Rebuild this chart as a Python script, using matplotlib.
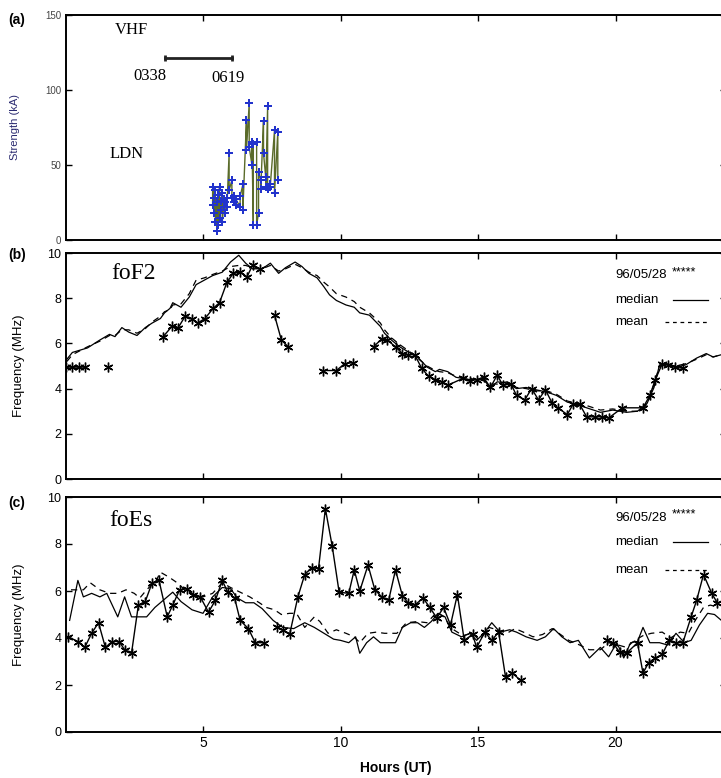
import numpy as np
import matplotlib
matplotlib.use('Agg')
import matplotlib.pyplot as plt
from matplotlib.lines import Line2D

plt.rcParams['font.family'] = ['Liberation Sans', 'DejaVu Sans']

nan = np.nan

# (a) lightning strokes (LDN) and VHF interval
ldn_hours = [5.35, 5.35, 5.40, 5.40, 5.45, 5.45, 5.50, 5.50, 5.55, 5.55, 5.60, 5.60,
             5.65, 5.65, 5.70, 5.70, 5.75, 5.75, 5.80, 5.80, 5.87, 5.87, 5.95, 5.95,
             6.05, 6.05, 6.12, 6.12, 6.20, 6.20, 6.35, 6.35, 6.45, 6.45, 6.58, 6.58,
             6.68, 6.68, 6.78, 6.78, 6.83, 6.83, 6.95, 6.95, 7.02, 7.02, 7.10, 7.10,
             7.20, 7.20, 7.28, 7.28, 7.35, 7.35, 7.45, 7.45, 7.60, 7.60, 7.72, 7.72]
ldn_ka = [23, 35, 28, 18, 33, 12, 25, 6, 30, 10, 35, 15,
          20, 26, 31, 12, 22, 27, 18, 25, 28, 22, 58, 33,
          40, 28, 25, 29, 23, 27, 22, 29, 37, 20, 80, 60,
          91, 62, 50, 65, 10, 64, 65, 10, 18, 45, 40, 34,
          79, 58, 42, 35, 89, 34, 35, 37, 73, 31, 72, 40]
vhf_hours = [3.6, 6.05]
vhf_level = [121, 121]

# (b) foF2
f2_obs_hours = [0.0, 0.25, 0.5, 0.7, nan, 1.55, nan,
                3.55, 3.87, 4.1, 4.35, 4.6, 4.8, 5.07, 5.37, 5.6, 5.87, 6.1, 6.35, 6.6, 6.8, 7.07, nan,
                7.6, 7.85, 8.1, nan,
                9.35, 9.85, 10.15, 10.45, nan,
                11.2, 11.5, 11.7, 12.0, 12.25, 12.45, 12.7, 12.95, 13.2, 13.45, 13.7, 13.9,
                14.45, 14.7, 14.95, 15.2, 15.45, 15.7, 15.9, 16.2, 16.4, 16.7, 16.95, 17.2, 17.45,
                17.7, 17.9, 18.25, 18.45, 18.7, 18.95, 19.25, 19.5, 19.75, 20.25,
                21.0, 21.25, 21.45, 21.7, 21.9, 22.15, 22.45]
f2_obs = [4.95, 4.95, 4.95, 4.95, nan, 4.95, nan,
          6.3, 6.75, 6.7, 7.2, 7.1, 6.9, 7.1, 7.55, 7.8, 8.7, 9.1, 9.15, 8.95, 9.45, 9.3, nan,
          7.25, 6.15, 5.85, nan,
          4.8, 4.8, 5.1, 5.15, nan,
          5.85, 6.2, 6.15, 5.85, 5.55, 5.5, 5.5, 4.9, 4.55, 4.4, 4.3, 4.15,
          4.45, 4.35, 4.4, 4.5, 4.05, 4.6, 4.15, 4.2, 3.7, 3.5, 4.0, 3.5, 3.95,
          3.35, 3.15, 2.85, 3.3, 3.3, 2.75, 2.75, 2.75, 2.7, 3.15,
          3.15, 3.7, 4.4, 5.1, 5.05, 4.95, 4.9]
f2_hours = [0.05, 0.25, 0.8, 1.25, 1.6, 1.8, 2.05, 2.3, 2.6, 2.9, 3.15, 3.45, 3.6, 3.8, 3.9,
            4.2, 4.5, 4.75, 5.05, 5.35, 5.7, 6.0, 6.3, 6.55, 6.8, 7.15, 7.45, 7.75, 8.0, 8.35,
            8.6, 8.85, 9.15, 9.4, 9.6, 9.85, 10.2, 10.5, 10.7, 11.05, 11.45, 11.6, 11.85, 12.15,
            12.5, 12.8, 13.15, 13.45, 13.6, 13.9, 14.2, 14.7, 15.2, 15.45, 15.7, 16.05, 16.4,
            16.75, 17.1, 17.5, 17.85, 18.25, 18.6, 18.95, 19.45, 19.9, 20.4, 20.8, 21.15, 21.4,
            21.6, 21.9, 22.2, 22.55, 22.95, 23.3, 23.55, 23.85]
f2_median = [5.3, 5.6, 5.8, 6.15, 6.4, 6.3, 6.7, 6.5, 6.35, 6.7, 6.9, 7.1, 7.35, 7.55, 7.8,
             7.6, 8.05, 8.6, 8.8, 9.0, 9.15, 9.6, 9.9, 9.55, 9.3, 9.3, 9.55, 9.1, 9.35, 9.6,
             9.4, 9.1, 8.9, 8.5, 8.15, 7.9, 7.7, 7.6, 7.35, 7.25, 6.75, 6.45, 6.15, 5.85,
             5.6, 5.4, 4.95, 4.75, 4.85, 4.75, 4.5, 4.4, 4.4, 4.05, 4.3, 4.25, 4.0,
             4.05, 3.95, 3.85, 3.7, 3.4, 3.3, 3.15, 2.95, 3.05, 2.95, 3.0, 3.35, 4.05,
             5.05, 5.1, 4.95, 5.05, 5.35, 5.55, 5.4, 5.5]
f2_mean = [5.2, 5.5, 5.85, 6.1, 6.35, 6.35, 6.6, 6.6, 6.45, 6.65, 6.95, 7.2, 7.4, 7.5, 7.7,
           7.75, 8.2, 8.8, 8.9, 9.05, 9.2, 9.4, 9.45, 9.45, 9.35, 9.3, 9.45, 9.2, 9.3, 9.5,
           9.35, 9.15, 9.0, 8.7, 8.5, 8.2, 8.05, 7.85, 7.6, 7.35, 6.9, 6.6, 6.25, 5.95,
           5.65, 5.35, 5.0, 4.8, 4.75, 4.7, 4.55, 4.45, 4.35, 4.2, 4.2, 4.3, 4.05,
           4.0, 3.9, 3.9, 3.75, 3.45, 3.35, 3.25, 3.05, 3.1, 3.0, 3.0, 3.3, 4.2,
           5.0, 5.05, 5.0, 5.1, 5.3, 5.5, 5.4, 5.5]

# (c) foEs
es_obs_hours = [0.1, 0.45, 0.7, 0.95, 1.2, 1.45, 1.7, 1.95, 2.15, 2.4, 2.65, 2.9, 3.15, 3.4,
                3.7, 3.9, 4.15, 4.4, 4.65, 4.9, 5.2, 5.45, 5.7, 5.9, 6.15, 6.35, 6.65, 6.9, 7.2, nan,
                7.7, 7.9, 8.15, 8.45, 8.7, 8.95, 9.2, 9.45, 9.7, 9.95, 10.3, 10.5, 10.7, 11.0,
                11.25, 11.5, 11.75, 12.0, 12.25, 12.45, 12.7, 13.0, 13.25, 13.5, 13.75, 14.0,
                14.25, 14.5, 14.8, 14.95, 15.25, 15.5, 15.75, 16.0, 16.25, 16.55, nan,
                19.7, 19.9, 20.15, 20.4, 20.8, 21.0, 21.2, 21.45, 21.7, 21.95, 22.2, 22.45,
                22.75, 22.95, 23.2, 23.5, 23.7]
es_obs = [4.05, 3.85, 3.6, 4.2, 4.65, 3.6, 3.85, 3.85, 3.5, 3.35, 5.4, 5.55, 6.35, 6.45,
          4.9, 5.4, 6.05, 6.1, 5.85, 5.75, 5.1, 5.6, 6.45, 5.95, 5.7, 4.75, 4.4, 3.8, 3.8, nan,
          4.45, 4.35, 4.15, 5.75, 6.7, 7.0, 6.95, 9.5, 7.9, 5.95, 5.9, 6.9, 6.0, 7.1,
          6.05, 5.75, 5.6, 6.9, 5.8, 5.5, 5.4, 5.7, 5.3, 4.85, 5.3, 4.55,
          5.85, 3.9, 4.15, 3.6, 4.25, 3.9, 4.25, 2.35, 2.5, 2.2, nan,
          3.9, 3.8, 3.4, 3.35, 3.8, 2.5, 2.95, 3.15, 3.3, 3.9, 3.8, 3.8,
          4.9, 5.6, 6.7, 5.9, 5.5]
es_med_hours = [0.15, 0.45, 0.65, 0.95, 1.25, 1.5, 1.9, 2.15, 2.4, 2.6, 2.95, 3.25, 3.7, 3.9,
                4.2, 4.6, 5.0, 5.35, 5.7, 6.0, 6.25, 6.55, 6.85, 7.15, 7.55, 7.9, 8.3, 8.7,
                9.05, 9.4, 9.75, 10.0, 10.3, 10.55, 10.7, 10.95, 11.2, 11.45, 12.0, 12.25,
                12.55, 12.8, 13.05, 13.3, 13.55, 13.8, 14.05, 14.4, 14.7, 14.95, 15.25, 15.5,
                15.8, 16.15, 16.4, 16.75, 17.15, 17.45, 17.75, 18.05, 18.35, 18.65, 19.05,
                19.45, 19.75, 20.05, 20.3, 20.55, 20.8, 21.0, 21.25, 21.6, 21.9, 22.2, 22.5,
                22.75, 23.05, 23.35, 23.6, 23.85]
es_median = [4.75, 6.45, 5.75, 5.9, 5.75, 5.9, 4.9, 5.75, 4.9, 4.9, 4.9, 5.3, 5.75, 5.95,
             5.55, 5.2, 5.05, 5.75, 6.15, 6.1, 5.7, 5.5, 5.5, 5.25, 4.75, 4.45, 4.4, 4.65,
             4.45, 4.2, 3.95, 3.9, 3.8, 4.05, 3.35, 3.8, 4.05, 3.8, 3.8, 4.45,
             4.65, 4.65, 4.45, 4.7, 5.05, 4.9, 4.25, 4.05, 4.2, 3.9, 4.25, 4.65,
             4.25, 4.35, 4.25, 4.05, 3.9, 4.05, 4.4, 4.05, 3.8, 3.9, 3.15,
             3.6, 3.2, 3.8, 3.15, 3.8, 3.85, 4.45, 3.8, 3.8, 3.7, 4.2, 3.8,
             3.9, 4.55, 5.05, 5.0, 4.75]
es_mean_hours = [0.2, 0.65, 0.9, 1.25, 1.6, 1.9, 2.2, 2.5, 2.7, 2.95, 3.3, 3.45, 3.75, 4.0,
                 4.35, 4.65, 5.0, 5.35, 5.7, 6.0, 6.35, 6.7, 7.05, 7.3, 7.6, 7.85, 8.15, 8.4,
                 8.7, 9.05, 9.25, 9.55, 9.85, 10.2, 10.5, 10.7, 11.0, 11.3, 11.6, 12.05, 12.4,
                 12.8, 13.15, 13.5, 13.75, 14.05, 14.45, 14.8, 15.05, 15.4, 15.7, 16.05, 16.35,
                 16.65, 17.0, 17.35, 17.7, 18.0, 18.3, 18.7, 19.05, 19.45, 19.75, 20.1, 20.4,
                 20.7, 21.0, 21.3, 21.7, 22.0, 22.35, 22.65, 22.9, 23.2, 23.45, 23.75]
es_mean = [6.05, 6.05, 6.35, 6.05, 5.9, 5.9, 6.05, 5.9, 5.7, 6.05, 6.45, 6.8, 6.6, 6.4,
           6.05, 5.85, 5.75, 5.9, 6.35, 6.15, 5.95, 5.75, 5.5, 5.3, 5.2, 5.0, 5.05, 5.05,
           4.45, 4.9, 4.7, 4.2, 4.35, 4.2, 4.05, 3.8, 4.2, 4.25, 4.2, 4.2, 4.65,
           4.7, 4.65, 5.1, 4.9, 4.4, 4.1, 4.2, 3.9, 4.45, 4.35, 4.2, 4.4,
           4.25, 4.05, 4.15, 4.4, 4.15, 3.9, 3.7, 3.5, 3.5, 3.8, 3.7, 3.6,
           3.9, 4.1, 4.2, 4.25, 4.0, 4.25, 4.2, 4.75, 5.3, 5.4, 5.3]

freq_ticks = [0, 2, 4, 6, 8, 10]
hour_ticks = [5, 10, 15, 20]
key_labels = ['96/05/28', 'median', 'mean']

star = (6, 2, 0)
dash = (0, (5, 4))


def draw_key(ax, rows):
    # gnuplot-style key: label on the left, sample on the right
    tr = ax.transAxes
    ax.text(0.833, rows[0], key_labels[0], transform=tr, fontsize=9.5, va='center')
    ax.text(0.918, rows[0] + 0.012, '*****', transform=tr, fontsize=9, va='center')
    ax.text(0.833, rows[1], key_labels[1], transform=tr, fontsize=9.5, va='center')
    ax.text(0.833, rows[2], key_labels[2], transform=tr, fontsize=9.5, va='center')
    ax.add_line(Line2D([0.92, 0.974], [rows[1], rows[1]], transform=tr, color='k', lw=0.9))
    ax.add_line(Line2D([0.908, 0.974], [rows[2], rows[2]], transform=tr, color='k', lw=0.9,
                       ls=(0, (3, 3))))


fig = plt.figure(figsize=(7.21, 7.78), dpi=100)
W, H = 721.0, 778.0
x0 = 65.5 / W
xw = 660.0 / W
ax_a = fig.add_axes([x0, 1 - 240 / H, xw, 225 / H])
ax_b = fig.add_axes([x0, 1 - 479 / H, xw, 226 / H])
ax_c = fig.add_axes([x0, 1 - 732 / H, xw, 235 / H])

for ax in (ax_a, ax_b, ax_c):
    ax.set_xlim(0, 24)
    ax.set_xticks(hour_ticks)
    ax.tick_params(direction='in', top=True, right=True, length=4, width=1,
                   labelsize=9, pad=3)
    for sp in ax.spines.values():
        sp.set_linewidth(1.4)

# panel (a)
ax_a.set_ylim(0, 150)
ax_a.set_yticks([0, 50, 100, 150])
ax_a.tick_params(labelsize=7, labelcolor='#444444', labelbottom=False)
ax_a.plot(ldn_hours, ldn_ka, color='#5a6b2a', lw=1.0, marker=(4, 2, 0), ms=6,
          mec='#2233cc', mew=1.2)
ax_a.plot(vhf_hours, vhf_level, color='#222222', lw=2, marker='|', ms=5, mew=2)
ax_a.text(1.8, 140, 'VHF', family='Liberation Serif', fontsize=12, va='center')
ax_a.text(2.45, 109, '0338', family='Liberation Serif', fontsize=12, va='center')
ax_a.text(5.3, 108, '0619', family='Liberation Serif', fontsize=12, va='center')
ax_a.text(1.6, 57, 'LDN', family='Liberation Serif', fontsize=12, va='center')
ax_a.set_ylabel('Strength (kA)', fontsize=8, color='#2a2a70', labelpad=18)

# panel (b)
ax_b.set_ylim(0, 10)
ax_b.set_yticks(freq_ticks)
ax_b.tick_params(labelbottom=False)
ax_b.plot(f2_obs_hours, f2_obs, color='k', lw=1.0, marker=star, ms=7, mew=1.0)
ax_b.plot(f2_hours, f2_median, color='k', lw=0.9)
ax_b.plot(f2_hours, f2_mean, color='k', lw=0.9, ls=dash)
ax_b.text(1.65, 9.1, 'foF2', family='Liberation Serif', fontsize=17, va='center')
ax_b.set_ylabel('Frequency (MHz)', fontsize=9.5, labelpad=16)
draw_key(ax_b, [0.903, 0.792, 0.695])

# panel (c)
ax_c.set_ylim(0, 10)
ax_c.set_yticks(freq_ticks)
ax_c.plot(es_obs_hours, es_obs, color='k', lw=1.0, marker=star, ms=7, mew=1.0)
ax_c.plot(es_med_hours, es_median, color='k', lw=0.9)
ax_c.plot(es_mean_hours, es_mean, color='k', lw=0.9, ls=dash)
ax_c.text(1.6, 9.0, 'foEs', family='Liberation Serif', fontsize=17, va='center')
ax_c.set_ylabel('Frequency (MHz)', fontsize=9.5, labelpad=16)
ax_c.set_xlabel('Hours (UT)', fontsize=10, fontweight='bold', labelpad=8)
ax_c.tick_params(axis='x', labelsize=10)
draw_key(ax_c, [0.912, 0.807, 0.69])

fig.text(0.012, 1 - 20 / H, '(a)', fontsize=10, fontweight='bold', va='center')
fig.text(0.012, 1 - 255 / H, '(b)', fontsize=10, fontweight='bold', va='center')
fig.text(0.012, 1 - 503 / H, '(c)', fontsize=10, fontweight='bold', va='center')

fig.savefig('out.png', dpi=100)
